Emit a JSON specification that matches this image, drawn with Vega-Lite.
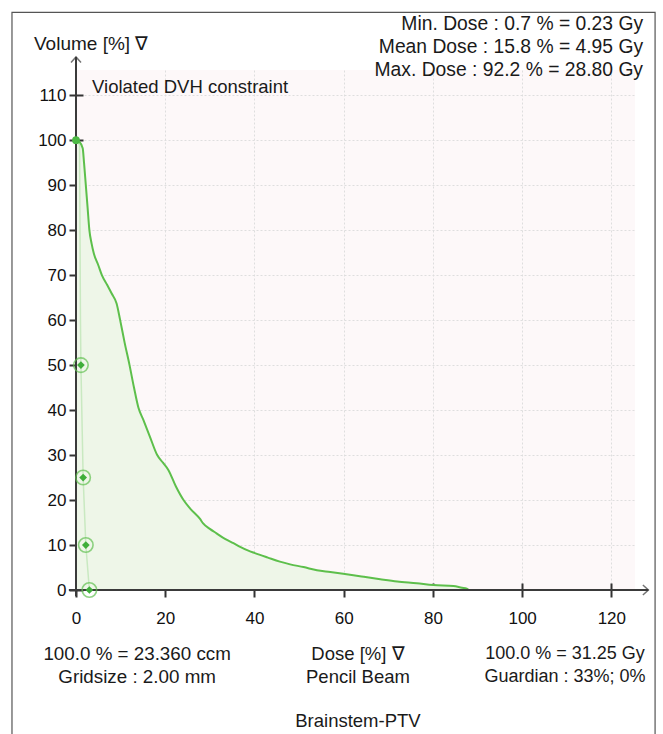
{
  "$schema": "https://vega.github.io/schema/vega-lite/v6.json",
  "width": 559,
  "height": 520,
  "autosize": {"type": "none"},
  "padding": {"left": 76, "top": 70, "right": 28, "bottom": 144},
  "background": "white",
  "datasets": {
    "dvh": [
      {"dose": 0, "volume": 100}, {"dose": 0.8, "volume": 99.6}, {"dose": 1.5, "volume": 98.2},
      {"dose": 1.8, "volume": 95}, {"dose": 2.2, "volume": 90}, {"dose": 2.6, "volume": 85},
      {"dose": 3.0, "volume": 80}, {"dose": 3.5, "volume": 77}, {"dose": 4.0, "volume": 74.8},
      {"dose": 5.0, "volume": 72.2}, {"dose": 5.8, "volume": 70}, {"dose": 7.0, "volume": 67.8},
      {"dose": 8.0, "volume": 65.9}, {"dose": 9.1, "volume": 63.7}, {"dose": 9.9, "volume": 60},
      {"dose": 10.9, "volume": 55}, {"dose": 12.0, "volume": 50}, {"dose": 13.0, "volume": 45},
      {"dose": 14.0, "volume": 40.5}, {"dose": 15.1, "volume": 37.8}, {"dose": 16.6, "volume": 34},
      {"dose": 18.2, "volume": 30}, {"dose": 19.5, "volume": 28.3}, {"dose": 20.7, "volume": 26.7},
      {"dose": 22.4, "volume": 23}, {"dose": 24.1, "volume": 20}, {"dose": 25.6, "volume": 18.1},
      {"dose": 27.8, "volume": 15.8}, {"dose": 28.5, "volume": 14.8}, {"dose": 30.0, "volume": 13.6},
      {"dose": 31.5, "volume": 12.6}, {"dose": 33.5, "volume": 11.3}, {"dose": 35.3, "volume": 10.4},
      {"dose": 36.8, "volume": 9.6}, {"dose": 38.5, "volume": 8.8}, {"dose": 40.1, "volume": 8.2},
      {"dose": 43.0, "volume": 7.2}, {"dose": 45.7, "volume": 6.3}, {"dose": 48.0, "volume": 5.7},
      {"dose": 51.0, "volume": 5.1}, {"dose": 54.0, "volume": 4.4}, {"dose": 57.0, "volume": 4.0},
      {"dose": 59.9, "volume": 3.6}, {"dose": 64.0, "volume": 3.0}, {"dose": 68.2, "volume": 2.4},
      {"dose": 72.0, "volume": 1.9}, {"dose": 76.4, "volume": 1.5}, {"dose": 80.1, "volume": 1.1},
      {"dose": 84.6, "volume": 0.9}, {"dose": 86.5, "volume": 0.5}, {"dose": 87.6, "volume": 0.3},
      {"dose": 88.0, "volume": 0}
    ],
    "dvh2": [
      {"dose": 0, "volume": 100}, {"dose": 0.8, "volume": 99}, {"dose": 1.0, "volume": 60},
      {"dose": 1.1, "volume": 50}, {"dose": 1.4, "volume": 35}, {"dose": 1.6, "volume": 25},
      {"dose": 2.0, "volume": 15}, {"dose": 2.2, "volume": 10}, {"dose": 2.6, "volume": 5},
      {"dose": 3.0, "volume": 0}
    ],
    "constraints": [
      {"dose": 1.1, "volume": 50}, {"dose": 1.6, "volume": 25},
      {"dose": 2.2, "volume": 10}, {"dose": 3.0, "volume": 0}
    ],
    "start": [{"dose": 0, "volume": 100}]
  },
  "config": {
    "font": "Liberation Sans",
    "view": {"fill": "#fdf8f9", "stroke": null},
    "axis": {
      "gridColor": "#dedede",
      "gridDash": [2, 2],
      "gridWidth": 1,
      "domain": false,
      "tickColor": "#333333",
      "tickWidth": 2,
      "labelFont": "Liberation Sans",
      "labelFontSize": 17,
      "labelColor": "#111111",
      "labelFlush": false,
      "title": null
    }
  },
  "layer": [
    {
      "data": {"name": "dvh"},
      "mark": {"type": "area", "color": "#eef6e8", "opacity": 1, "interpolate": "monotone"},
      "encoding": {
        "x": {"field": "dose", "type": "quantitative", "scale": {"domain": [0, 125.3], "nice": false},
              "axis": {"values": [0, 20, 40, 60, 80, 100, 120], "offset": -7, "tickSize": 14, "labelPadding": 13}},
        "y": {"field": "volume", "type": "quantitative", "scale": {"domain": [0, 115.6], "nice": false},
              "axis": {"values": [0, 10, 20, 30, 40, 50, 60, 70, 80, 90, 100, 110], "offset": -7, "tickSize": 14, "labelPadding": 3}}
      }
    },
    {
      "data": {"name": "dvh2"},
      "mark": {"type": "line", "color": "#c9e9c1", "strokeWidth": 1.5},
      "encoding": {
        "x": {"field": "dose", "type": "quantitative"},
        "y": {"field": "volume", "type": "quantitative"}
      }
    },
    {
      "data": {"name": "dvh"},
      "mark": {"type": "line", "color": "#5dbf4b", "strokeWidth": 2, "interpolate": "monotone"},
      "encoding": {
        "x": {"field": "dose", "type": "quantitative"},
        "y": {"field": "volume", "type": "quantitative"}
      }
    },
    {
      "data": {"name": "start"},
      "mark": {"type": "rule", "color": "#3a3a3a", "strokeWidth": 2},
      "encoding": {
        "x": {"datum": -1.6, "type": "quantitative"},
        "x2": {"datum": 128.3},
        "y": {"datum": 0, "type": "quantitative"}
      }
    },
    {
      "data": {"name": "start"},
      "mark": {"type": "rule", "color": "#3a3a3a", "strokeWidth": 2},
      "encoding": {
        "x": {"datum": 0, "type": "quantitative"},
        "y": {"datum": -1.4, "type": "quantitative"},
        "y2": {"datum": 118.5}
      }
    },
    {
      "data": {"name": "start"},
      "mark": {"type": "point", "shape": "M-1.1,-1L0,0L-1.1,1", "filled": false, "color": "#3a3a3a", "strokeWidth": 1.5, "size": 100},
      "encoding": {
        "x": {"datum": 128.3, "type": "quantitative"},
        "y": {"datum": 0, "type": "quantitative"}
      }
    },
    {
      "data": {"name": "start"},
      "mark": {"type": "point", "shape": "M-1,1.1L0,0L1,1.1", "filled": false, "color": "#3a3a3a", "strokeWidth": 1.5, "size": 100},
      "encoding": {
        "x": {"datum": 0, "type": "quantitative"},
        "y": {"datum": 118.5, "type": "quantitative"}
      }
    },
    {
      "data": {"name": "constraints"},
      "mark": {"type": "point", "shape": "circle", "filled": false, "color": "#62c152", "strokeWidth": 1.6, "size": 210},
      "encoding": {
        "x": {"field": "dose", "type": "quantitative"},
        "y": {"field": "volume", "type": "quantitative"}
      }
    },
    {
      "data": {"name": "constraints"},
      "mark": {"type": "point", "shape": "diamond", "filled": true, "color": "#3fae3a", "opacity": 1, "size": 60},
      "encoding": {
        "x": {"field": "dose", "type": "quantitative"},
        "y": {"field": "volume", "type": "quantitative"}
      }
    },
    {
      "data": {"name": "start"},
      "mark": {"type": "point", "shape": "circle", "filled": true, "color": "#4cb944", "opacity": 1, "size": 60},
      "encoding": {
        "x": {"field": "dose", "type": "quantitative"},
        "y": {"field": "volume", "type": "quantitative"}
      }
    },
    {
      "data": {"name": "start"},
      "mark": {"type": "rect", "filled": false, "stroke": "#555555", "strokeWidth": 1.2, "fill": null, "clip": false},
      "encoding": {
        "x": {"datum": -14.35, "type": "quantitative"},
        "x2": {"datum": 129.8},
        "y": {"datum": 128.4, "type": "quantitative"},
        "y2": {"datum": -34}
      }
    },
    {
      "data": {"name": "start"},
      "mark": {"type": "text", "align": "right", "baseline": "middle", "fontSize": 19.3, "lineHeight": 23, "color": "#1a1a1a"},
      "encoding": {
        "x": {"datum": 127.1, "type": "quantitative"},
        "y": {"datum": 125.8, "type": "quantitative"},
        "text": {"value": ["Min. Dose : 0.7 % = 0.23 Gy", "Mean Dose : 15.8 % = 4.95 Gy", "Max. Dose : 92.2 % = 28.80 Gy"]}
      }
    },
    {
      "data": {"name": "start"},
      "mark": {"type": "text", "align": "center", "baseline": "middle", "fontSize": 19, "color": "#1a1a1a"},
      "encoding": {
        "x": {"datum": 3.4, "type": "quantitative"},
        "y": {"datum": 121.3, "type": "quantitative"},
        "text": {"value": "Volume [%] ∇"}
      }
    },
    {
      "data": {"name": "start"},
      "mark": {"type": "text", "align": "left", "baseline": "middle", "fontSize": 18.5, "color": "#1a1a1a"},
      "encoding": {
        "x": {"datum": 3.6, "type": "quantitative"},
        "y": {"datum": 111.8, "type": "quantitative"},
        "text": {"value": "Violated DVH constraint"}
      }
    },
    {
      "data": {"name": "start"},
      "mark": {"type": "text", "align": "center", "baseline": "middle", "fontSize": 18.8, "lineHeight": 23, "color": "#1a1a1a"},
      "encoding": {
        "x": {"datum": 13.7, "type": "quantitative"},
        "y": {"datum": -14.2, "type": "quantitative"},
        "text": {"value": ["100.0 % = 23.360 ccm", "Gridsize : 2.00 mm"]}
      }
    },
    {
      "data": {"name": "start"},
      "mark": {"type": "text", "align": "center", "baseline": "middle", "fontSize": 18.5, "lineHeight": 23, "color": "#1a1a1a"},
      "encoding": {
        "x": {"datum": 63.2, "type": "quantitative"},
        "y": {"datum": -14.2, "type": "quantitative"},
        "text": {"value": ["Dose [%] ∇", "Pencil Beam"]}
      }
    },
    {
      "data": {"name": "start"},
      "mark": {"type": "text", "align": "center", "baseline": "middle", "fontSize": 18, "lineHeight": 23, "color": "#1a1a1a"},
      "encoding": {
        "x": {"datum": 109.6, "type": "quantitative"},
        "y": {"datum": -14.2, "type": "quantitative"},
        "text": {"value": ["100.0 % = 31.25 Gy", "Guardian : 33%; 0%"]}
      }
    },
    {
      "data": {"name": "start"},
      "mark": {"type": "text", "align": "center", "baseline": "middle", "fontSize": 18.5, "color": "#1a1a1a"},
      "encoding": {
        "x": {"datum": 63.2, "type": "quantitative"},
        "y": {"datum": -29.1, "type": "quantitative"},
        "text": {"value": "Brainstem-PTV"}
      }
    }
  ]
}
